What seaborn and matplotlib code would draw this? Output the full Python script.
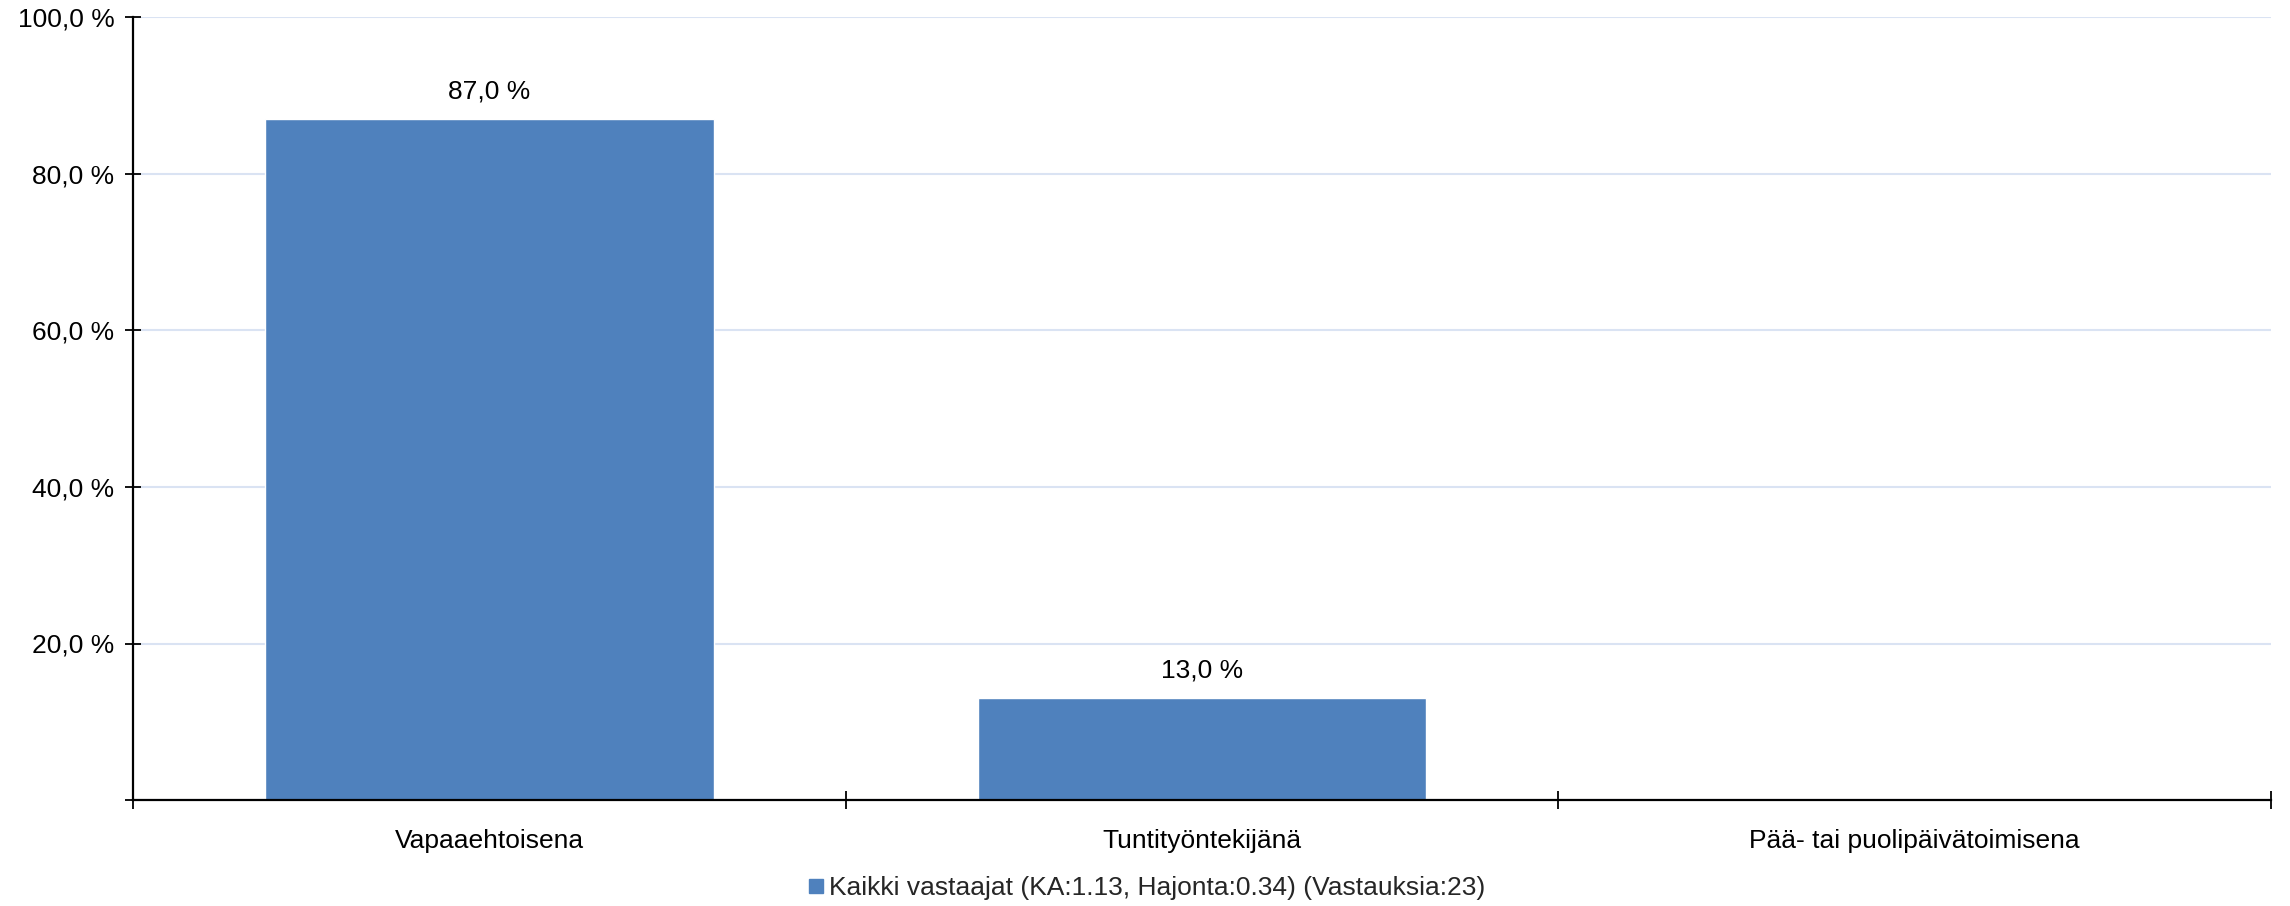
import matplotlib
matplotlib.use("Agg")
import matplotlib.pyplot as plt
from matplotlib.lines import Line2D
import seaborn as sns
import pandas as pd

categories = ["Vapaaehtoisena", "Tuntityöntekijänä", "Pää- tai puolipäivätoimisena"]
values = [87.0, 13.0, 0.0]
series_name = "Kaikki vastaajat (KA:1.13, Hajonta:0.34) (Vastauksia:23)"
y_ticks = [0, 20, 40, 60, 80, 100]
y_tick_labels = ["", "20,0 %", "40,0 %", "60,0 %", "80,0 %", "100,0 %"]

bar_color = "#4f81bd"
grid_color = "#dae3f3"
fs = 19

sns.set_theme(style="white")
plt.rcParams["font.family"] = ["Liberation Sans", "DejaVu Sans"]

df = pd.DataFrame({"kategoria": categories, "osuus": values, "sarja": series_name})

fig = plt.figure(figsize=(22.9, 9.06), dpi=100)
ax = fig.add_axes([133 / 2290, 1 - 800 / 906, (2271 - 133) / 2290, (800 - 17.5) / 906])

sns.barplot(data=df, x="kategoria", y="osuus", color=bar_color, width=0.63,
            saturation=1, ax=ax, errorbar=None, legend=False)

ax.set_ylim(0, 100)
ax.set_xlim(-0.5, len(categories) - 0.5)
ax.set_yticks(y_ticks)
ax.set_yticklabels(y_tick_labels)
ax.set_xlabel("")
ax.set_ylabel("")

ax.yaxis.grid(True, color=grid_color, linewidth=1.5)
ax.set_axisbelow(True)

for side in ["top", "right"]:
    ax.spines[side].set_visible(False)
for side in ["left", "bottom"]:
    ax.spines[side].set_visible(True)
    ax.spines[side].set_color("black")
    ax.spines[side].set_linewidth(1.6)

ax.tick_params(axis="y", which="major", direction="inout", length=11, width=1.3,
               color="black", labelsize=fs, labelcolor="black", pad=8, left=True)
ax.tick_params(axis="x", which="major", length=0, labelsize=fs, labelcolor="black", pad=21)
ax.set_xticks([i - 0.5 for i in range(len(categories) + 1)], minor=True)
ax.tick_params(axis="x", which="minor", direction="inout", length=13, width=1.3,
               color="black", bottom=True)

labels = [(f"{v:.1f} %".replace(".", ",") if v > 0 else "") for v in values]
ax.bar_label(ax.containers[0], labels=labels, padding=11, fontsize=fs, color="black")

handle = Line2D([], [], marker="s", linestyle="none", markersize=10,
                markerfacecolor=bar_color, markeredgecolor=bar_color)
fig.legend([handle], [series_name], loc="center", bbox_to_anchor=(0.5, 1 - 888 / 906),
           frameon=False, fontsize=fs, handletextpad=0.1, handlelength=0.8,
           borderpad=0, borderaxespad=0)

fig.savefig("out.png", dpi=100)
